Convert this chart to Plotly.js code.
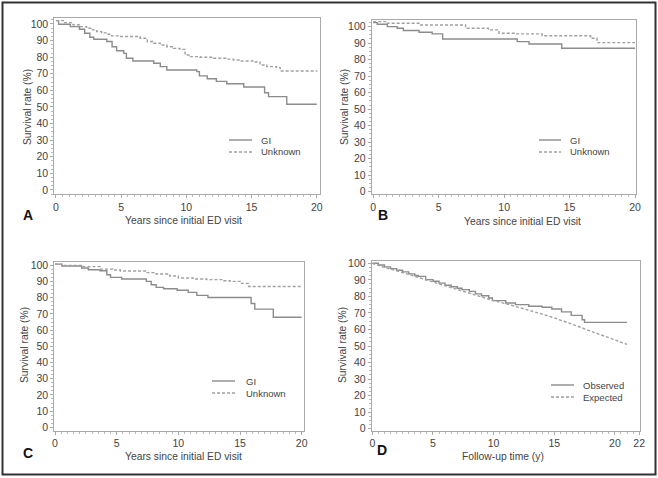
<!DOCTYPE html>
<html><head><meta charset="utf-8">
<script src="https://cdn.plot.ly/plotly-3.0.1.min.js"></script>
<style>html,body{margin:0;padding:0;background:#fff}#chart{width:658px;height:478px}</style>
</head><body><div id="chart"></div>
<script>
// ---------- Data ----------
const aGiX = [0,0.2,1.1,1.8,2.2,2.6,2.9,3.9,4.3,4.65,5.2,5.4,5.9,7.5,8.0,8.5,10.8,11.0,11.6,12.3,13.1,14.4,16.0,16.3,17.7,20];
const aGiY = [102,99.8,98.4,96.8,94.4,92.0,90.8,89.4,86.3,83.9,82.3,79.3,77.7,76.3,74.3,72.3,71.3,68.7,67.0,65.4,64.0,62.0,58.6,56.2,51.6,51.6];
const aUnkX = [0,0.56,1.3,1.84,2.35,2.8,3.12,3.5,3.89,4.27,4.9,6.45,7.0,7.5,8.0,8.5,9.0,9.5,9.9,10.3,11.05,12.07,13.1,13.6,14.1,15.1,15.65,16.16,16.9,17.2,20];
const aUnkY = [102,100.8,99.5,98.4,97.4,96.4,95.4,94.6,93.8,92.8,92.4,91.4,89.4,88.4,87.3,86.3,85.3,84.7,81.3,80.3,79.9,79.3,78.8,78.3,77.7,77.1,75.3,74.3,73.7,71.7,71.3];

const bGiX = [0,0.3,1.07,1.83,2.3,3.5,4.5,5.3,11.0,11.9,14.4,20];
const bGiY = [102.4,101.4,100,99,97.6,96.6,95.6,92.5,90.9,89.5,86.9,86.9];
const bUnkX = [0,1.07,3.5,7.05,8.8,9.6,10.9,12.9,16.6,17.1,20];
const bUnkY = [103,102,101,99,98,96,95.6,94.5,92.9,90.3,90.3];

const cGiX = [0,0.54,2.16,2.7,3.65,4.2,4.5,5.4,7.4,7.8,8.2,8.8,9.9,10.8,11.5,12.4,15.9,16.2,17.7,20];
const cGiY = [100.8,99.6,98.4,97.3,96.7,94.2,92.6,91.6,90.1,88,86.4,85.6,84.6,83.3,81.5,80.2,76.5,73,68,68];
const cUnkX = [0,0.54,2.3,3.65,4.7,5.3,7.4,8.2,9.3,10.0,11.2,12.3,13.6,14.2,15.0,15.7,20];
const cUnkY = [100.8,100,99.2,97.7,97.1,96.5,95.5,94.7,93.4,92.2,91.6,91.2,90.5,90.1,88.9,87,87];

const dObsX = [0,0.5,1,1.5,2,2.5,3,3.5,3.8,4.4,5,5.5,6,6.5,7,7.4,8,8.5,9,9.6,9.9,11,11.8,12.9,14,14.8,15.6,16.4,17.3,17.5,21];
const dObsY = [100,99,97.8,96.8,95.8,94.8,93.6,92.6,92.1,90.1,89.1,88,86.7,85.8,84.9,84.1,83,81.5,80.4,79,77.4,76,75,74,73.4,72.4,70.6,68.5,65.9,64.3,64.3];
const dExpX = [0,1,2,3,4,5,6,7,8,9,10,11,12,13,14,15,16,17,18,19,20,21];
const dExpY = [100,97.5,95.5,93.2,91,88.8,86.6,84.4,82,79.8,77.4,75.6,73.6,71.5,69.3,67,64.5,61.8,59,56.4,53.7,51];

const yTicks = [0,10,20,30,40,50,60,70,80,90,100];
const xTicksABC = [0,5,10,15,20];
const xTicksD = [0,5,10,15,20,22];
const seriesNamesABC = ["GI","Unknown"];
const seriesNamesD = ["Observed","Expected"];
const panelLetters = ["A","B","C","D"];
const xTitleABC = "Years since initial ED visit";
const xTitleD = "Follow-up time (y)";
const yTitle = "Survival rate (%)";

// ---------- Layout helpers ----------
const W = 658, H = 478;
const px = v => v / W;
const py = v => 1 - v / H;
const FONT = "Liberation Sans, Arial, sans-serif";
const solidCol = "#8c8c8c", dashCol = "#a0a0a0";

function stepTrace(x, y, name, dashed, xa, ya) {
  return {x, y, name, type: "scatter", mode: "lines", xaxis: xa, yaxis: ya, showlegend: false,
    line: {shape: "hv", color: dashed ? dashCol : solidCol, width: 1.4, dash: dashed ? "3px,2px" : "solid"},
    hoverinfo: "skip"};
}
const traces = [
  stepTrace(aGiX, aGiY, seriesNamesABC[0], false, "x", "y"),
  stepTrace(aUnkX, aUnkY, seriesNamesABC[1], true, "x", "y"),
  stepTrace(bGiX, bGiY, seriesNamesABC[0], false, "x2", "y2"),
  stepTrace(bUnkX, bUnkY, seriesNamesABC[1], true, "x2", "y2"),
  stepTrace(cGiX, cGiY, seriesNamesABC[0], false, "x3", "y3"),
  stepTrace(cUnkX, cUnkY, seriesNamesABC[1], true, "x3", "y3"),
  stepTrace(dObsX, dObsY, seriesNamesD[0], false, "x4", "y4"),
  Object.assign(stepTrace(dExpX, dExpY, seriesNamesD[1], true, "x4", "y4"), {line: {shape: "linear", color: dashCol, width: 1.4, dash: "3px,2px"}})
];

// panel geometry in pixels: left, right, top, bottom, x-range, y-range
const panels = [
  {l: 54.3, r: 320, t: 18.3, b: 194.3, xr: [-0.13, 20.25], yr: [-2.6, 103.4], xt: xTicksABC},
  {l: 371.7, r: 635.7, t: 20, b: 194.3, xr: [-0.12, 20.05], yr: [-1.6, 104], xt: xTicksABC},
  {l: 54.3, r: 304, t: 262.3, b: 430.7, xr: [-0.06, 20.19], yr: [-2.1, 101.9], xt: xTicksABC},
  {l: 371.7, r: 640, t: 261.3, b: 430.7, xr: [-0.05, 22.07], yr: [-1.2, 101.2], xt: xTicksD}
];

const layout = {width: W, height: H, margin: {l: 0, r: 0, t: 0, b: 0}, paper_bgcolor: "#fff", plot_bgcolor: "#fff",
  showlegend: false, font: {family: FONT, size: 10.5, color: "#444"}, shapes: [], annotations: []};

panels.forEach((p, i) => {
  const sx = i === 0 ? "" : String(i + 1);
  const axCommon = {showline: true, linecolor: "#aaa", linewidth: 1, mirror: true, showgrid: false, zeroline: false,
    ticks: "outside", ticklen: 3, tickcolor: "#aaa", tickfont: {family: FONT, size: 10.5, color: "#444"}, fixedrange: true};
  layout["xaxis" + sx] = Object.assign({}, axCommon, {domain: [px(p.l), px(p.r)], range: p.xr, anchor: "y" + sx,
    tickmode: "array", tickvals: p.xt, ticktext: p.xt.map(String),
    minor: {tickmode: "linear", tick0: 0, dtick: 0.5, ticks: "outside", ticklen: 2, tickcolor: "#bbb"}});
  layout["yaxis" + sx] = Object.assign({}, axCommon, {domain: [py(p.b), py(p.t)], range: p.yr, anchor: "x" + sx,
    tickmode: "array", tickvals: yTicks, ticktext: yTicks.map(String),
    minor: {tickmode: "linear", tick0: 0, dtick: 2.5, ticks: "outside", ticklen: 2, tickcolor: "#bbb"}});
});

// axis titles & panel letters
const xTitles = [
  {t: xTitleABC, x: 183, y: 221}, {t: xTitleABC, x: 522, y: 222},
  {t: xTitleABC, x: 183, y: 456}, {t: xTitleD, x: 503, y: 456}];
const yTitles = [{x: 27, y: 107}, {x: 344, y: 107}, {x: 24, y: 345}, {x: 342, y: 345}];
const letters = [{x: 21, y: 215}, {x: 376, y: 215}, {x: 21, y: 453}, {x: 375, y: 450}];
xTitles.forEach(o => layout.annotations.push({text: o.t, xref: "paper", yref: "paper", x: px(o.x), y: py(o.y),
  xanchor: "center", yanchor: "middle", showarrow: false, font: {family: FONT, size: 10.3, color: "#444"}}));
yTitles.forEach(o => layout.annotations.push({text: yTitle, xref: "paper", yref: "paper", x: px(o.x), y: py(o.y),
  xanchor: "center", yanchor: "middle", textangle: -90, showarrow: false, font: {family: FONT, size: 10.3, color: "#444"}}));
letters.forEach((o, i) => layout.annotations.push({text: "<b>" + panelLetters[i] + "</b>", xref: "paper", yref: "paper",
  x: px(o.x), y: py(o.y), xanchor: "left", yanchor: "middle", showarrow: false, font: {family: FONT, size: 14, color: "#111"}}));

// legends (per panel)
const legends = [
  {x0: 229, x1: 252, tx: 259, y1: 140, y2: 152, names: seriesNamesABC},
  {x0: 539, x1: 561, tx: 568, y1: 140, y2: 152, names: seriesNamesABC},
  {x0: 212, x1: 235, tx: 244, y1: 381, y2: 393, names: seriesNamesABC},
  {x0: 551, x1: 574, tx: 581, y1: 385, y2: 397, names: seriesNamesD}
];
legends.forEach(L => {
  layout.shapes.push({type: "line", xref: "paper", yref: "paper", x0: px(L.x0), x1: px(L.x1), y0: py(L.y1), y1: py(L.y1),
    line: {color: solidCol, width: 1.4}});
  layout.shapes.push({type: "line", xref: "paper", yref: "paper", x0: px(L.x0), x1: px(L.x1), y0: py(L.y2), y1: py(L.y2),
    line: {color: dashCol, width: 1.4, dash: "3px,2px"}});
  [L.y1, L.y2].forEach((yy, k) => layout.annotations.push({text: L.names[k], xref: "paper", yref: "paper",
    x: px(L.tx), y: py(yy), xanchor: "left", yanchor: "middle", showarrow: false, font: {family: FONT, size: 9.5, color: "#444"}}));
});

// outer frame
layout.shapes.push({type: "rect", xref: "paper", yref: "paper", x0: px(2.5), x1: px(655.5), y0: py(474.5), y1: py(2.5),
  line: {color: "#333", width: 2}});

Plotly.newPlot("chart", traces, layout, {staticPlot: true, displayModeBar: false});
</script></body></html>
